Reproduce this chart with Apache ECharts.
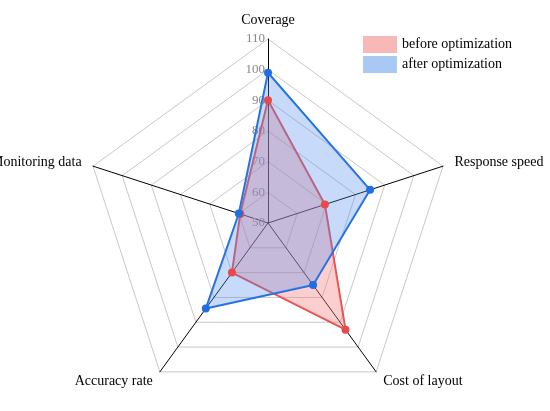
<!DOCTYPE html>
<html><head><meta charset="utf-8">
<script src="https://cdn.jsdelivr.net/npm/echarts@6/dist/echarts.min.js"></script>
<style>html,body{margin:0;padding:0;background:#fff}#c{width:550px;height:411px}</style>
</head><body><div id="c"></div>
<script>
// clockwise from top
const indicators = ['Coverage','Response speed','Cost of layout','Accuracy rate','Monitoring data'];
const before = [90, 69.5, 93, 70, 59.5];
const after = [99, 85, 75, 84.5, 60];
const seriesNames = ['before optimization','after optimization'];
// ECharts radar runs counterclockwise; reorder for display
const order = [0,4,3,2,1];
const font = "'Liberation Serif', 'Times New Roman', serif";
const chart = echarts.init(document.getElementById('c'));
chart.setOption({
  animation:false,
  textStyle:{fontFamily:font},
  legend:{
    data:[{name:seriesNames[0], itemStyle:{color:'#f9b8b8'}}, {name:seriesNames[1], itemStyle:{color:'#aac8f4'}}],
    orient:'vertical', left:358, top:31, itemWidth:34, itemHeight:17, itemGap:3,
    icon:'rect',
    textStyle:{fontFamily:font, fontSize:14, color:'#000'}
  },
  radar:{
    center:[268,223], radius:184, startAngle:90, shape:'polygon', splitNumber:6,
    indicator: order.map((k,i)=>({name:indicators[k], min:50, max:110,
      axisLabel: i===0 ? {show:true, color:'#888', fontSize:13, fontFamily:font, showMinLabel:true, showMaxLabel:true, margin:3} : {show:false}})),
    axisName:{color:'#000', fontSize:14, fontFamily:font},
    nameGap:12,
    axisLine:{lineStyle:{color:'#000', width:1}},
    splitLine:{lineStyle:{color:'#c8c8c8', width:1}},
    splitArea:{show:false}
  },
  series:[{
    type:'radar',
    data:[
      {name:seriesNames[0], value:order.map(k=>before[k]), symbol:'circle', symbolSize:8,
       itemStyle:{color:'#e84a4a'},
       lineStyle:{color:'#e84a4a', width:2}, areaStyle:{color:'rgba(245,130,130,0.55)'}},
      {name:seriesNames[1], value:order.map(k=>after[k]), symbol:'circle', symbolSize:8,
       itemStyle:{color:'#1f6fe0'},
       lineStyle:{color:'#1f6fe0', width:2}, areaStyle:{color:'rgba(80,140,235,0.45)'}}
    ]
  }]
});
</script></body></html>
